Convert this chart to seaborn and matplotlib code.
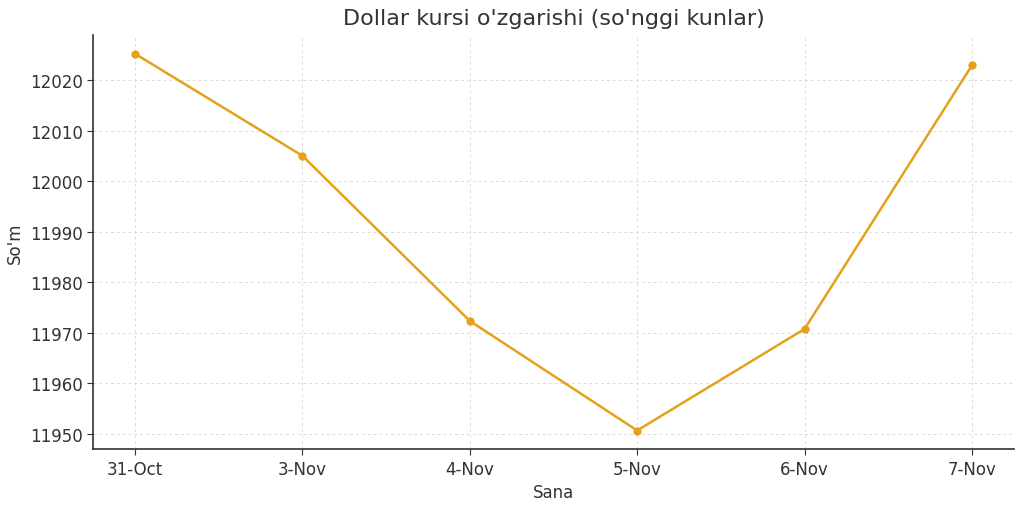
import matplotlib
matplotlib.use("Agg")
import matplotlib.pyplot as plt
import seaborn as sns
import pandas as pd

dates = ["31-Oct", "3-Nov", "4-Nov", "5-Nov", "6-Nov", "7-Nov"]
rates = [12025.2, 12005.0, 11972.3, 11950.6, 11970.7, 12022.9]

sns.set_theme(style="whitegrid")
plt.rcParams['font.family'] = ['DejaVu Sans']

df = pd.DataFrame({"Sana": dates, "So'm": rates})

fig, ax = plt.subplots(figsize=(10.24, 5.06), dpi=100)
sns.lineplot(data=df, x="Sana", y="So'm", marker="o", color="#E6A11A",
             linewidth=1.8, markersize=6, markeredgewidth=0, ax=ax, sort=False)

ax.set_title("Dollar kursi o'zgarishi (so'nggi kunlar)", fontsize=16, color="#333333", pad=8)
ax.set_xlabel("Sana", fontsize=12, color="#333333")
ax.set_ylabel("So'm", fontsize=12, color="#333333")
ax.grid(True, linestyle=(0, (3, 3)), color="#dcdcdc", linewidth=0.7)
for s in ["top", "right"]:
    ax.spines[s].set_visible(False)
for s in ["left", "bottom"]:
    ax.spines[s].set_color("#333333")
    ax.spines[s].set_linewidth(1.2)
ax.tick_params(axis="both", labelsize=12, colors="#333333", length=4, width=0.8,
               direction="out", bottom=True, left=True)
ax.margins(x=0.05, y=0.05)
ax.set_facecolor("white")

plt.subplots_adjust(left=0.091, right=0.99, top=0.929, bottom=0.11)
fig.savefig("out.png", dpi=100)
